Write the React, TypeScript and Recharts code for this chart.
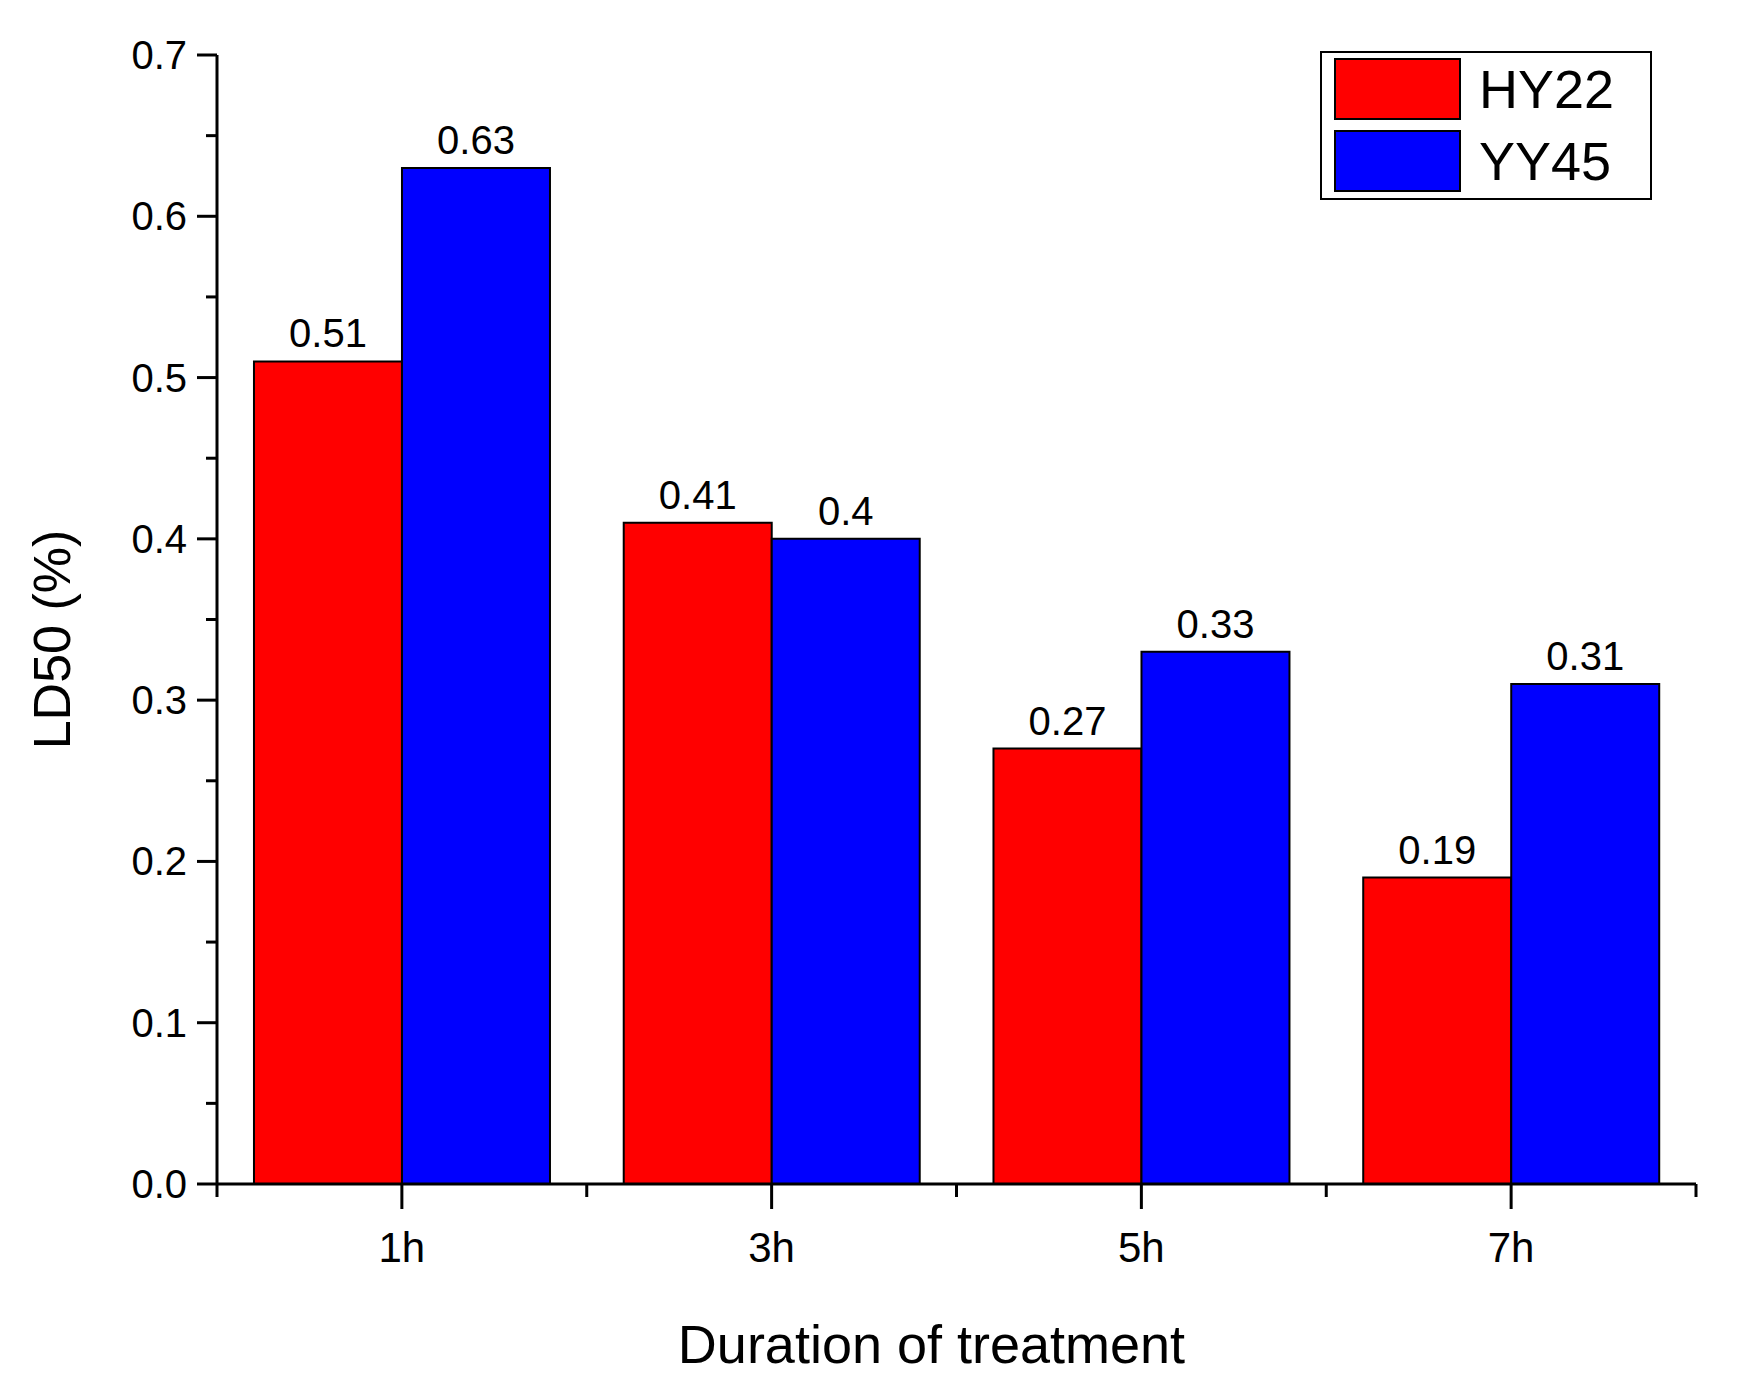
import React from "react"
import { BarChart, Bar, XAxis, YAxis, LabelList, Label } from "recharts"

const categories = ["1h", "3h", "5h", "7h"]
const hy22 = [0.51, 0.41, 0.27, 0.19]
const yy45 = [0.63, 0.4, 0.33, 0.31]
const yTicks = [0, 0.05, 0.1, 0.15, 0.2, 0.25, 0.3, 0.35, 0.4, 0.45, 0.5, 0.55, 0.6, 0.65, 0.7]

const data = categories.map((name, i) => ({ name, HY22: hy22[i], YY45: yy45[i] }))

const W = 1730
const H = 1377
const margin = { top: 47, right: 42, left: 20, bottom: 0 }
const Y_WIDTH = 189
const PLOT_LEFT = margin.left + Y_WIDTH
const PLOT_RIGHT = W - margin.right
const BAND = (PLOT_RIGHT - PLOT_LEFT) / categories.length
const FONT = "'Liberation Sans', Arial, sans-serif"

const YTick = (props: any) => {
  const { y, payload } = props
  const v = payload.value
  const major = Math.round(v * 100) % 10 === 0
  const x0 = PLOT_LEFT
  return (
    <g>
      <line x1={x0} x2={x0 - (major ? 20 : 11)} y1={y} y2={y} stroke="#000" strokeWidth={3} />
      {major && (
        <text x={x0 - 30} y={y} dy={14} textAnchor="end" fontSize={40} fontFamily={FONT} fill="#000">
          {v.toFixed(1)}
        </text>
      )}
    </g>
  )
}

const XTick = (props: any) => {
  const { x, y, payload, index } = props
  const y0 = y - 8
  return (
    <g>
      <line x1={x} x2={x} y1={y0} y2={y0 + 25} stroke="#000" strokeWidth={3} />
      <line x1={x - BAND / 2} x2={x - BAND / 2} y1={y0} y2={y0 + 13} stroke="#000" strokeWidth={3} />
      {index === categories.length - 1 && (
        <line x1={x + BAND / 2} x2={x + BAND / 2} y1={y0} y2={y0 + 13} stroke="#000" strokeWidth={3} />
      )}
      <text x={x} y={y0 + 78} textAnchor="middle" fontSize={42} fontFamily={FONT} fill="#000">
        {payload.value}
      </text>
    </g>
  )
}

export default function App() {
  return (
    <div style={{ position: "relative", width: W, height: H, background: "#fff" }}>
      <BarChart width={W} height={H} data={data} margin={margin} barCategoryGap="10%" barGap={0}>
        <XAxis
          dataKey="name"
          height={201}
          axisLine={{ stroke: "#000", strokeWidth: 3 }}
          tickLine={false}
          tick={<XTick />}
          interval={0}
        >
          <Label value="Duration of treatment" position="insideBottom" offset={22} dx={-25} fontSize={54} fontFamily={FONT} fill="#000" />
        </XAxis>
        <YAxis
          width={Y_WIDTH}
          domain={[0, 0.7]}
          ticks={yTicks}
          interval={0}
          axisLine={{ stroke: "#000", strokeWidth: 3 }}
          tickLine={false}
          tick={<YTick />}
        >
          <Label
            value="LD50 (%)"
            angle={-90}
            position="insideLeft"
            offset={0}
            dx={24}
            dy={20}
            fontSize={52}
            fontFamily={FONT}
            fill="#000"
            style={{ textAnchor: "middle" }}
          />
        </YAxis>
        <Bar dataKey="HY22" fill="#ff0000" stroke="#000" strokeWidth={2} isAnimationActive={false}>
          <LabelList dataKey="HY22" position="top" offset={14} fontSize={40} fontFamily={FONT} fill="#000" />
        </Bar>
        <Bar dataKey="YY45" fill="#0000ff" stroke="#000" strokeWidth={2} isAnimationActive={false}>
          <LabelList dataKey="YY45" position="top" offset={14} fontSize={40} fontFamily={FONT} fill="#000" />
        </Bar>
      </BarChart>
      <div
        style={{
          position: "absolute",
          left: 1312,
          top: 43,
          width: 328,
          height: 145,
          border: "2px solid #000",
          background: "#fff",
          fontFamily: FONT,
          fontSize: 54,
        }}
      >
        {[
          ["HY22", "#ff0000"],
          ["YY45", "#0000ff"],
        ].map(([name, color], i) => (
          <div key={name} style={{ position: "absolute", left: 12, top: 5 + i * 72, display: "flex", alignItems: "center" }}>
            <div style={{ width: 127, height: 62, background: color, border: "2px solid #000", boxSizing: "border-box" }} />
            <span style={{ marginLeft: 18 }}>{name}</span>
          </div>
        ))}
      </div>
    </div>
  )
}
